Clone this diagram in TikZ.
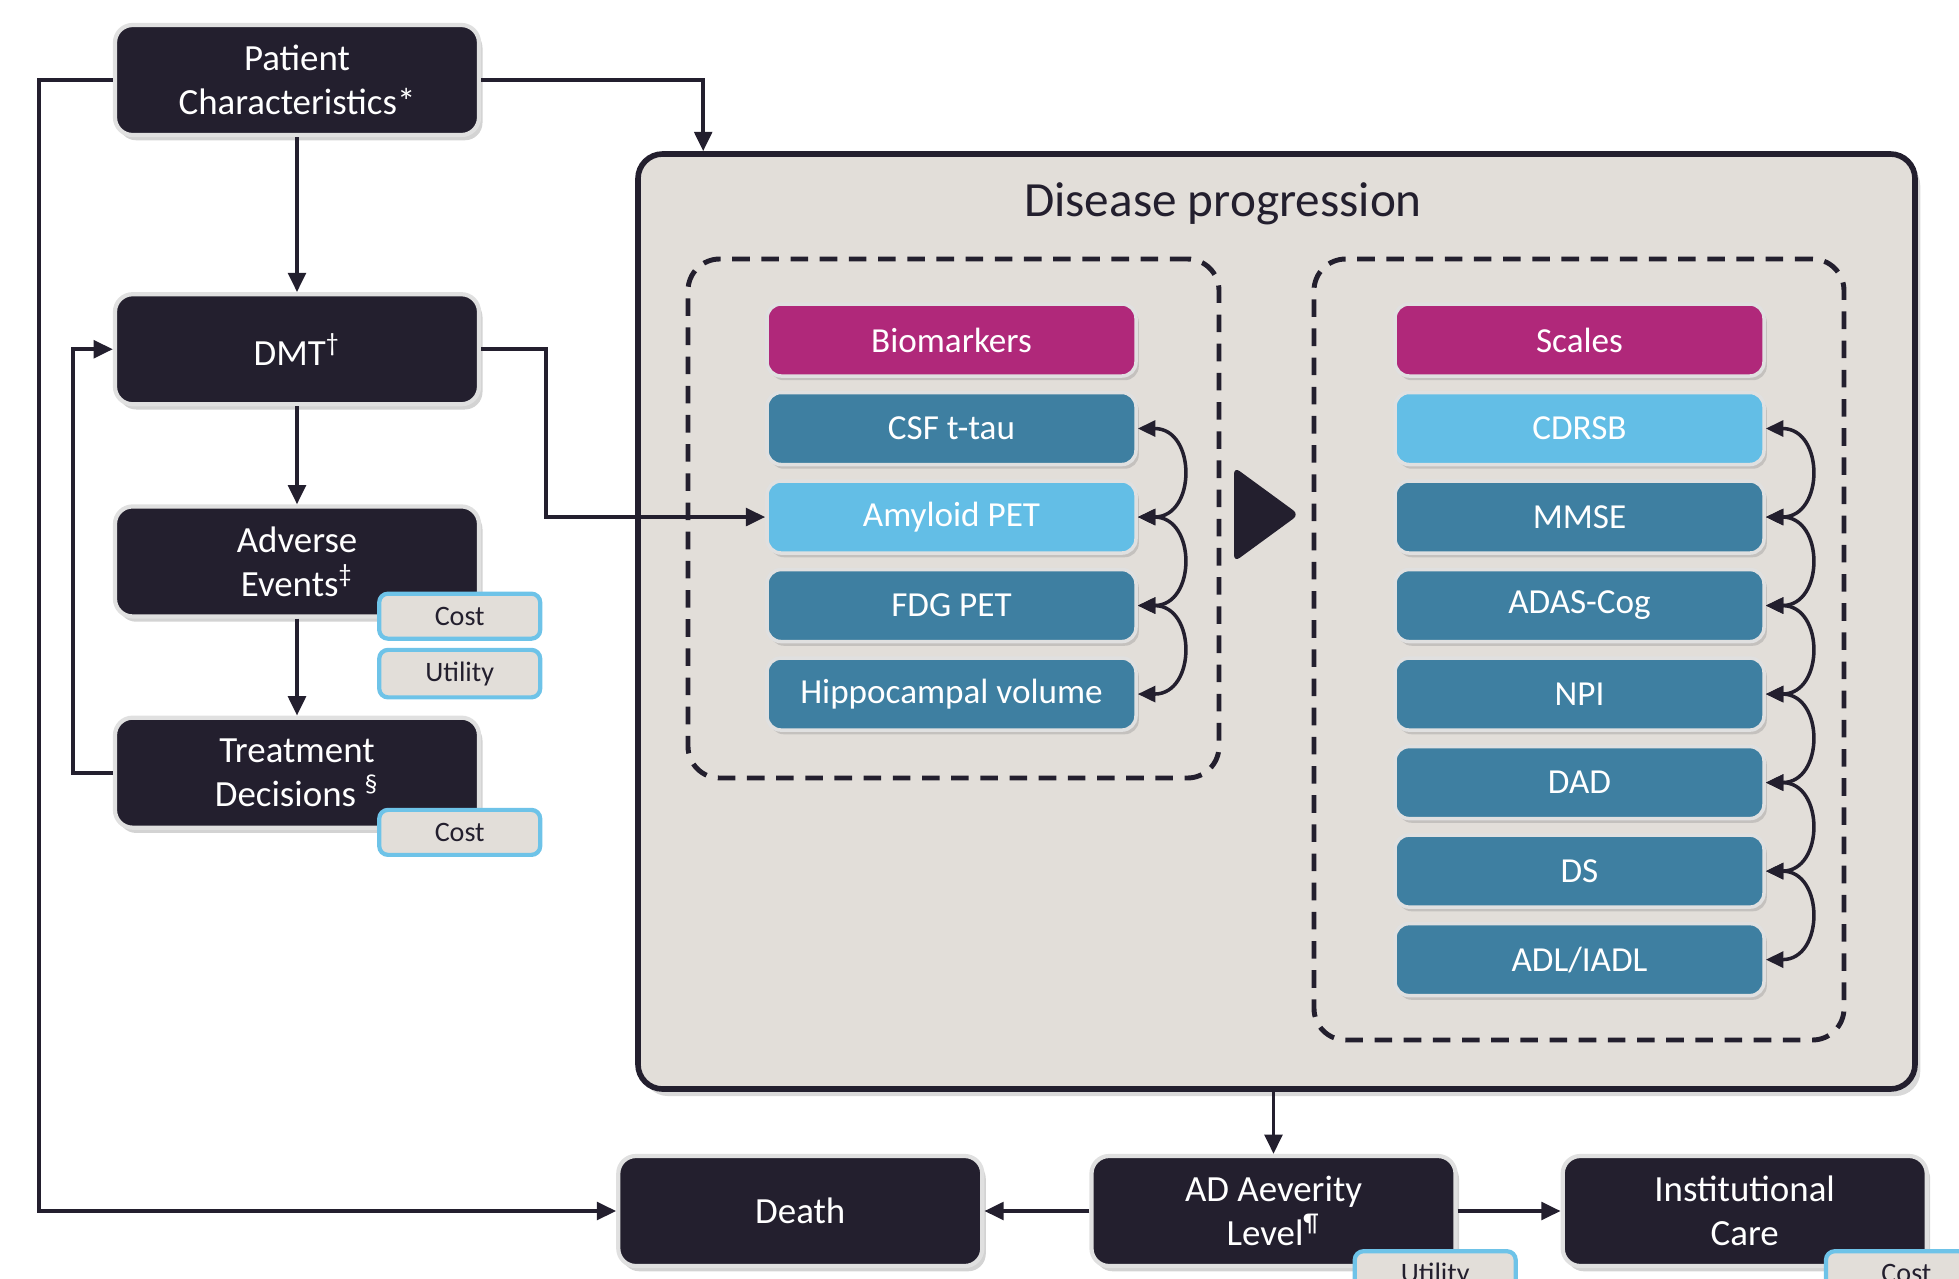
\documentclass[tikz,border=0pt]{standalone}
\usepackage{fontspec}
\setmainfont{Carlito}
\usepackage{xcolor}
\usepackage{tikz}
\usetikzlibrary{
  shapes.geometric, arrows.meta, positioning, calc, shadows
}
\definecolor{ink}{HTML}{231F2E}
\definecolor{panel}{HTML}{E2DED9}
\definecolor{magbar}{HTML}{B0287A}
\definecolor{tealbar}{HTML}{3E7FA1}
\definecolor{skybar}{HTML}{63BEE6}
\definecolor{tagline}{HTML}{6EC3E8}
\tikzset{
  %% Dark model state box
  state/.style={
    rectangle, rounded corners=5pt,
    draw=black!12, fill=ink, text=white,
    align=center, font=\fontsize{10.5}{12.5}\selectfont,
    minimum width=3.64cm, minimum height=1.10cm,
    line width=1.2pt,
    drop shadow={opacity=0.35, shadow xshift=1pt, shadow yshift=-1.5pt}
  },
  %% Coloured bar inside the panels
  bar/.style={
    rectangle, rounded corners=4pt,
    draw=white!88!black, fill=#1, text=white,
    text centered, font=\fontsize{10}{12}\selectfont,
    minimum width=3.69cm, minimum height=0.72cm,
    line width=1pt,
    drop shadow={opacity=0.3, shadow xshift=0.8pt, shadow yshift=-1.2pt}
  },
  bar/.default=tealbar,
  %% Cost / utility tag
  tag/.style={
    rectangle, rounded corners=2.5pt,
    draw=tagline, fill=panel, text=ink,
    text centered, font=\fontsize{8}{9}\selectfont,
    minimum width=1.61cm, minimum height=0.45cm,
    line width=1.2pt, anchor=north west
  },
  %% Dashed group
  group/.style={
    rectangle, rounded corners=9pt,
    draw=ink, dash pattern=on 5pt off 3.3pt,
    line width=1.4pt
  },
  %% Arrow
  arr/.style={-{Triangle[length=5.5pt,width=5pt]},
              draw=ink, line width=1.1pt},
  darr/.style={{Triangle[length=5pt,width=4.5pt]}-%
               {Triangle[length=5pt,width=4.5pt]},
               draw=ink, line width=1pt},
}

\begin{document}
\begin{tikzpicture}[node distance=0.13cm]

  \useasboundingbox (0,0) rectangle (19.59,-12.78);

  %% disease progression panel
  \node[rectangle, rounded corners=7pt, draw=ink, fill=panel,
        line width=1.6pt, minimum width=12.77cm, minimum height=9.35cm,
        drop shadow={opacity=0.3, shadow xshift=1.5pt, shadow yshift=-2pt}]
       (dp) at (12.765,-6.215) {};
  \node[font=\fontsize{14}{16}\selectfont, text=ink]
       (dptitle) at (12.23,-2.04) {Disease progression};

  \node[group, minimum width=5.31cm, minimum height=5.19cm]
       (biogrp) at (9.535,-5.185) {};
  \node[group, minimum width=5.30cm, minimum height=7.81cm]
       (sclgrp) at (15.79,-6.495) {};

  %% biomarkers
  \node[bar=magbar] (bio) at (9.515,-3.40) {Biomarkers};
  \node[bar, below=of bio] (csf) {CSF t-tau};
  \node[bar=skybar, below=of csf] (amy) {Amyloid PET};
  \node[bar, below=of amy] (fdg) {FDG PET};
  \node[bar, below=of fdg] (hip) {Hippocampal volume};

  %% scales
  \node[bar=magbar] (scl) at (15.795,-3.40) {Scales};
  \node[bar=skybar, below=of scl] (cdr) {CDRSB};
  \node[bar, below=of cdr] (mms) {MMSE};
  \node[bar, below=of mms] (ada) {ADAS-Cog};
  \node[bar, below=of ada] (npi) {NPI};
  \node[bar, below=of npi] (dad) {DAD};
  \node[bar, below=of dad] (ds) {DS};
  \node[bar, below=of ds] (adl) {ADL/IADL};

  \fill[ink, rounded corners=2pt]
       (12.34,-4.67) -- (12.99,-5.145) -- (12.34,-5.62) -- cycle;

  \draw[darr] (csf.east) to[out=0,in=0,looseness=1.7] (amy.east);
  \draw[darr] (amy.east) to[out=0,in=0,looseness=1.7] (fdg.east);
  \draw[darr] (fdg.east) to[out=0,in=0,looseness=1.7] (hip.east);
  \draw[darr] (cdr.east) to[out=0,in=0,looseness=1.7] (mms.east);
  \draw[darr] (mms.east) to[out=0,in=0,looseness=1.7] (ada.east);
  \draw[darr] (ada.east) to[out=0,in=0,looseness=1.7] (npi.east);
  \draw[darr] (npi.east) to[out=0,in=0,looseness=1.7] (dad.east);
  \draw[darr] (dad.east) to[out=0,in=0,looseness=1.7] (ds.east);
  \draw[darr] (ds.east) to[out=0,in=0,looseness=1.7] (adl.east);

  %% left column
  \node[state] (pc) at (2.97,-0.80) {Patient\\Characteristics*};
  \node[state, below=1.55cm of pc] (dmt) {DMT\textsuperscript{†}};
  \node[state, below=0.98cm of dmt] (ae)
       {Adverse\\Events\textsuperscript{‡}};
  \node[state, below=0.97cm of ae] (td)
       {Treatment\\Decisions \textsuperscript{§}};

  \node[tag] (aecost) at ($(ae.south east)+(-1.04,0.27)$) {Cost};
  \node[tag, below=0.07cm of aecost] (aeutil) {Utility};
  \node[tag] (tdcost) at ($(td.south east)+(-1.04,0.22)$) {Cost};

  %% bottom row
  \node[state] (ad) at (12.735,-12.11) {AD Aeverity\\Level\textsuperscript{¶}};
  \node[state, left=1.05cm of ad] (death) {Death};
  \node[state, right=1.03cm of ad] (ic) {Institutional\\Care};

  \node[tag] (adutil) at ($(ad.south east)+(-1.05,0.19)$) {Utility};
  \node[tag] (iccost) at ($(ic.south east)+(-1.05,0.19)$) {Cost};

  %% connectors
  \draw[arr] (pc) -- (dmt);
  \draw[arr] (dmt) -- (ae);
  \draw[arr] (ae) -- (td);
  \draw[arr] (td.west) -- ++(-0.4,0) |- (dmt.west);
  \draw[arr] (pc.west) -- ++(-0.74,0) |- (death.west);
  \draw[arr] (pc.east) -| ($(dp.north west)+(0.68,0)$);
  \draw[arr] (dmt.east) -- ++(0.65,0) |- (amy.west);
  \draw[arr] (ad.north |- dp.south) -- (ad.north);
  \draw[arr] (ad) -- (death);
  \draw[arr] (ad) -- (ic);

\end{tikzpicture}
\end{document}
